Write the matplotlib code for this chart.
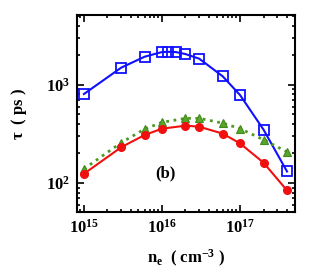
import matplotlib
matplotlib.use("Agg")
import matplotlib.pyplot as plt
from matplotlib.ticker import LogLocator, NullFormatter

plt.rcParams['font.family'] = ['Liberation Serif', 'DejaVu Serif']
plt.rcParams['font.weight'] = 'bold'
plt.rcParams['mathtext.fontset'] = 'custom'
plt.rcParams['mathtext.rm'] = 'Liberation Serif:bold'
plt.rcParams['mathtext.bf'] = 'Liberation Serif:bold'
plt.rcParams['mathtext.it'] = 'Liberation Serif:bold'

# data
ne_blue = [1e15, 3e15, 6e15, 1e16, 1.2e16, 1.5e16, 2e16, 3e16, 6e16, 1e17, 2e17, 4e17]
tau_blue = [804, 1490, 1927, 2150, 2160, 2150, 2050, 1840, 1217, 785, 349, 131]

ne = [1e15, 3e15, 6e15, 1e16, 2e16, 3e16, 6e16, 1e17, 2e17, 4e17]
tau_red = [124, 231, 308, 357, 383, 374, 318, 253, 161, 84]
tau_green = [139, 257, 354, 414, 455, 455, 407, 357, 276, 207]

fig = plt.figure(figsize=(3.19, 2.73), dpi=100)
ax = fig.add_axes([0.241, 0.2234, 0.684, 0.7216])

ax.plot(ne_blue, tau_blue, '-', color='#1010ff', lw=1.5, marker='s', ms=6.5,
        mfc='none', mec='#1010ff', mew=1.3)
ax.plot(ne, tau_green, ':', color='#4c9a24', lw=2, marker='^', ms=6,
        mfc='#5aa52c', mec='#3f8a1a', mew=0.8)
ax.plot(ne, tau_red, '-', color='#f01010', lw=1.5, marker='o', ms=5.5,
        mfc='#f01010', mec='#f01010')

ax.set_xscale('log')
ax.set_yscale('log')
ax.set_xlim(10**14.91, 10**17.705)
ax.set_ylim(10**1.705, 10**3.709)

ax.xaxis.set_major_locator(LogLocator(base=10, numticks=10))
ax.xaxis.set_minor_locator(LogLocator(base=10, subs=range(2, 10), numticks=10))
ax.yaxis.set_major_locator(LogLocator(base=10, numticks=10))
ax.yaxis.set_minor_locator(LogLocator(base=10, subs=range(2, 10), numticks=10))
ax.xaxis.set_minor_formatter(NullFormatter())
ax.yaxis.set_minor_formatter(NullFormatter())

ax.tick_params(which='both', direction='in', top=True, right=True, width=1.2)
ax.tick_params(which='major', length=5, labelsize=12, pad=5)
ax.tick_params(which='minor', length=2.5)
for s in ax.spines.values():
    s.set_linewidth(1.5)

ax.set_xlabel(r'n$_\mathregular{e}$  ( cm$^\mathregular{-3}$ )', fontsize=12, fontweight='bold', labelpad=8)
ax.set_ylabel(r'$\tau$  ( ps )', fontsize=12, fontweight='bold', labelpad=12)
ax.text(1.1e16, 125, '(b)', fontsize=12, fontweight='bold', ha='center', va='center')

fig.savefig('out.png', dpi=100)
